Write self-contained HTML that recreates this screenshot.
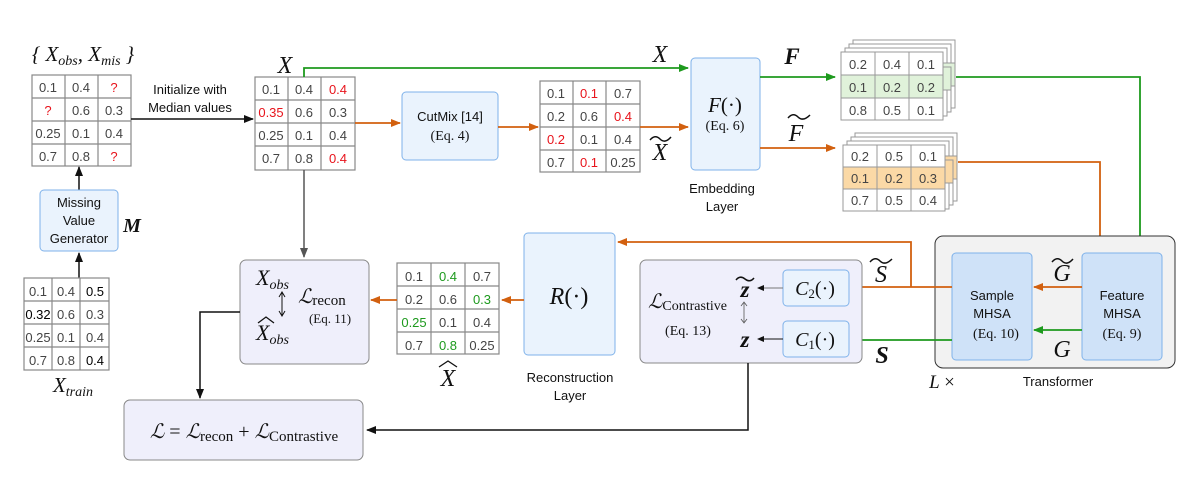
<!DOCTYPE html>
<html><head><meta charset="utf-8"><style>
html,body{margin:0;padding:0;background:#fff;}
svg{display:block;}
.c{font-family:"Liberation Sans",sans-serif;font-size:13px;fill:#444;text-anchor:middle;}
.r{fill:#e8141c;} .g{fill:#1e9a1e;} .k{fill:#000;}
.s{font-family:"Liberation Sans",sans-serif;font-size:13px;fill:#111;text-anchor:middle;}
.m{font-family:"Liberation Serif",serif;font-style:italic;fill:#111;text-anchor:middle;}
.e{font-family:"Liberation Serif",serif;fill:#111;text-anchor:middle;}
.gl{stroke:#888;fill:none;stroke-width:1.2;}
</style></head><body>
<svg width="1196" height="492" viewBox="0 0 1196 492" xmlns="http://www.w3.org/2000/svg">
<defs>
<marker id="ak" markerWidth="10" markerHeight="8" refX="9" refY="4" orient="auto" markerUnits="userSpaceOnUse"><path d="M0,0 L10,4 L0,8 z" fill="#111"/></marker>
<marker id="ag" markerWidth="10" markerHeight="8" refX="9" refY="4" orient="auto" markerUnits="userSpaceOnUse"><path d="M0,0 L10,4 L0,8 z" fill="#1e9a1e"/></marker>
<marker id="ao" markerWidth="10" markerHeight="8" refX="9" refY="4" orient="auto" markerUnits="userSpaceOnUse"><path d="M0,0 L10,4 L0,8 z" fill="#d2600f"/></marker>
<marker id="ad" markerWidth="10" markerHeight="8" refX="9" refY="4" orient="auto" markerUnits="userSpaceOnUse"><path d="M0,0 L10,4 L0,8 z" fill="#555"/></marker>
<marker id="as" markerWidth="7" markerHeight="6" refX="6" refY="3" orient="auto" markerUnits="userSpaceOnUse"><path d="M0,0 L7,3 L0,6 z" fill="#111"/></marker>
</defs>

<!-- Grid 1 -->
<text x="83" y="61" class="m" font-size="21">{ X<tspan font-size="14" dy="4">obs</tspan><tspan dy="-4">, X</tspan><tspan font-size="14" dy="4">mis</tspan><tspan dy="-4"> }</tspan></text>
<g class="gl"><rect x="32" y="75" width="99" height="91"/><path d="M65 75V166M98 75V166M32 98H131M32 121H131M32 144H131"/></g>
<g class="c"><text x="48" y="92">0.1</text><text x="81" y="92">0.4</text><text x="114" y="92" class="r">?</text>
<text x="48" y="115" class="r">?</text><text x="81" y="115">0.6</text><text x="114" y="115">0.3</text>
<text x="48" y="138">0.25</text><text x="81" y="138">0.1</text><text x="114" y="138">0.4</text>
<text x="48" y="161">0.7</text><text x="81" y="161">0.8</text><text x="114" y="161" class="r">?</text></g>
<line x1="131" y1="119" x2="253" y2="119" stroke="#111" stroke-width="1.5" marker-end="url(#ak)"/>
<text x="190" y="94" class="s">Initialize with</text><text x="190" y="112" class="s">Median values</text>
<line x1="79" y1="190" x2="79" y2="167" stroke="#111" stroke-width="1.5" marker-end="url(#ak)"/>
<rect x="40" y="190" width="78" height="61" rx="4" fill="#eaf3fd" stroke="#7fb2ea"/>
<text x="79" y="207" class="s">Missing</text><text x="79" y="225" class="s">Value</text><text x="79" y="243" class="s">Generator</text>
<text x="132" y="232" class="m" font-size="20" font-weight="bold">M</text>
<line x1="79" y1="278" x2="79" y2="253" stroke="#111" stroke-width="1.5" marker-end="url(#ak)"/>
<g class="gl"><rect x="24" y="278" width="85" height="92"/><path d="M52 278V370M80 278V370M24 301H109M24 324H109M24 347H109"/></g>
<g class="c"><text x="38" y="296">0.1</text><text x="66" y="296">0.4</text><text x="95" y="296" class="k">0.5</text>
<text x="38" y="319" class="k">0.32</text><text x="66" y="319">0.6</text><text x="95" y="319">0.3</text>
<text x="38" y="342">0.25</text><text x="66" y="342">0.1</text><text x="95" y="342">0.4</text>
<text x="38" y="365">0.7</text><text x="66" y="365">0.8</text><text x="95" y="365" class="k">0.4</text></g>
<text x="73" y="392" class="m" font-size="21">X<tspan font-size="14" dy="4">train</tspan></text>

<!-- X grid -->
<text x="285" y="73" class="m" font-size="24">X</text>
<g class="gl"><rect x="255" y="77" width="100" height="93"/><path d="M288 77V170M321 77V170M255 100H355M255 123H355M255 146H355"/></g>
<g class="c"><text x="271" y="94">0.1</text><text x="304" y="94">0.4</text><text x="338" y="94" class="r">0.4</text>
<text x="271" y="117" class="r">0.35</text><text x="304" y="117">0.6</text><text x="338" y="117">0.3</text>
<text x="271" y="140">0.25</text><text x="304" y="140">0.1</text><text x="338" y="140">0.4</text>
<text x="271" y="163">0.7</text><text x="304" y="163">0.8</text><text x="338" y="163" class="r">0.4</text></g>
<polyline points="304,77 304,68 688,68" fill="none" stroke="#1e9a1e" stroke-width="1.8" marker-end="url(#ag)"/>
<text x="660" y="62" class="m" font-size="24">X</text>
<line x1="355" y1="123" x2="400" y2="123" stroke="#d2600f" stroke-width="1.8" marker-end="url(#ao)"/>
<rect x="402" y="92" width="96" height="68" rx="4" fill="#eaf3fd" stroke="#7fb2ea"/>
<text x="450" y="121" class="s">CutMix [14]</text><text x="450" y="140" class="e" font-size="14">(Eq. 4)</text>
<line x1="498" y1="127" x2="538" y2="127" stroke="#d2600f" stroke-width="1.8" marker-end="url(#ao)"/>
<g class="gl"><rect x="540" y="81" width="100" height="91"/><path d="M573 81V172M606 81V172M540 104H640M540 127H640M540 150H640"/></g>
<g class="c"><text x="556" y="98">0.1</text><text x="589" y="98" class="r">0.1</text><text x="623" y="98">0.7</text>
<text x="556" y="121">0.2</text><text x="589" y="121">0.6</text><text x="623" y="121" class="r">0.4</text>
<text x="556" y="144" class="r">0.2</text><text x="589" y="144">0.1</text><text x="623" y="144">0.4</text>
<text x="556" y="167">0.7</text><text x="589" y="167" class="r">0.1</text><text x="623" y="167">0.25</text></g>
<line x1="640" y1="127" x2="688" y2="127" stroke="#d2600f" stroke-width="1.8" marker-end="url(#ao)"/>
<text x="660" y="160" class="m" font-size="24">X</text><path d="M650 140 Q655 134 660 139 T671 137" stroke="#111" fill="none" stroke-width="1.5"/>

<!-- Embedding -->
<rect x="691" y="58" width="69" height="112" rx="4" fill="#eaf3fd" stroke="#7fb2ea"/>
<text x="725" y="112" class="m" font-size="21">F<tspan font-style="normal">(·)</tspan></text>
<text x="725" y="130" class="e" font-size="14">(Eq. 6)</text>
<text x="722" y="193" class="s">Embedding</text><text x="722" y="211" class="s">Layer</text>
<line x1="760" y1="77" x2="835" y2="77" stroke="#1e9a1e" stroke-width="1.8" marker-end="url(#ag)"/>
<text x="792" y="64" class="m" font-size="23" font-weight="bold">F</text>
<line x1="760" y1="148" x2="835" y2="148" stroke="#d2600f" stroke-width="1.8" marker-end="url(#ao)"/>
<text x="796" y="141" class="m" font-size="24">F</text><path d="M788 118 Q793 112 798 117 T810 115" stroke="#111" fill="none" stroke-width="1.5"/>

<!-- F stack -->
<g stroke="#999" fill="#fff"><rect x="853" y="40" width="102" height="68"/><rect x="849" y="44" width="102" height="68"/><rect x="845" y="48" width="102" height="68"/></g>
<g stroke="#999" fill="#e0f2da"><rect x="853" y="63" width="102" height="23"/><rect x="849" y="67" width="102" height="23"/></g>
<rect x="841" y="52" width="102" height="68" fill="#fff" stroke="#999"/>
<rect x="841" y="75" width="102" height="23" fill="#e0f2da" stroke="#999"/>
<path d="M875 52V120M909 52V120" stroke="#999"/>
<g class="c"><text x="858" y="69">0.2</text><text x="892" y="69">0.4</text><text x="926" y="69">0.1</text>
<text x="858" y="92">0.1</text><text x="892" y="92">0.2</text><text x="926" y="92">0.2</text>
<text x="858" y="115">0.8</text><text x="892" y="115">0.5</text><text x="926" y="115">0.1</text></g>
<polyline points="956,77 1140,77 1140,250" fill="none" stroke="#1e9a1e" stroke-width="1.8" marker-end="url(#ag)"/>

<!-- F tilde stack -->
<g stroke="#999" fill="#fff"><rect x="855" y="133" width="102" height="68"/><rect x="851" y="137" width="102" height="68"/><rect x="847" y="141" width="102" height="68"/></g>
<g stroke="#999" fill="#fbd9a6"><rect x="855" y="156" width="102" height="23"/><rect x="851" y="160" width="102" height="23"/></g>
<rect x="843" y="145" width="102" height="66" fill="#fff" stroke="#999"/>
<rect x="843" y="167" width="102" height="22" fill="#fbd9a6" stroke="#999"/>
<path d="M877 145V211M911 145V211" stroke="#999"/>
<g class="c"><text x="860" y="161">0.2</text><text x="894" y="161">0.5</text><text x="928" y="161">0.1</text>
<text x="860" y="183">0.1</text><text x="894" y="183">0.2</text><text x="928" y="183">0.3</text>
<text x="860" y="205">0.7</text><text x="894" y="205">0.5</text><text x="928" y="205">0.4</text></g>
<polyline points="958,162 1100,162 1100,250" fill="none" stroke="#d2600f" stroke-width="1.8" marker-end="url(#ao)"/>

<!-- Transformer -->
<rect x="935" y="236" width="240" height="132" rx="8" fill="#f2f2f2" stroke="#333"/>
<rect x="952" y="253" width="80" height="107" rx="4" fill="#cfe2f8" stroke="#7fb2ea"/>
<text x="992" y="300" class="s">Sample</text><text x="992" y="318" class="s">MHSA</text><text x="996" y="338" class="e" font-size="14">(Eq. 10)</text>
<rect x="1082" y="253" width="80" height="107" rx="4" fill="#cfe2f8" stroke="#7fb2ea"/>
<text x="1122" y="300" class="s">Feature</text><text x="1122" y="318" class="s">MHSA</text><text x="1122" y="338" class="e" font-size="14">(Eq. 9)</text>
<line x1="1082" y1="287" x2="1034" y2="287" stroke="#d2600f" stroke-width="1.8" marker-end="url(#ao)"/>
<line x1="1082" y1="330" x2="1034" y2="330" stroke="#1e9a1e" stroke-width="1.8" marker-end="url(#ag)"/>
<text x="1062" y="281" class="m" font-size="24">G</text><path d="M1052 262 Q1057 256 1062 261 T1073 259" stroke="#111" fill="none" stroke-width="1.5"/>
<text x="1062" y="357" class="m" font-size="24">G</text>
<text x="942" y="388" class="m" font-size="19">L <tspan font-style="normal">×</tspan></text>
<text x="1058" y="386" class="s">Transformer</text>

<!-- S arrows -->
<line x1="952" y1="287" x2="852" y2="287" stroke="#d2600f" stroke-width="1.8" marker-end="url(#ao)"/>
<polyline points="911,287 911,242 618,242" fill="none" stroke="#d2600f" stroke-width="1.8" marker-end="url(#ao)"/>
<line x1="952" y1="340" x2="852" y2="340" stroke="#1e9a1e" stroke-width="1.8" marker-end="url(#ag)"/>
<text x="881" y="282" class="m" font-size="24">S</text><path d="M870 262 Q875 256 880 261 T892 259" stroke="#111" fill="none" stroke-width="1.5"/>
<text x="882" y="363" class="m" font-size="24" font-weight="bold">S</text>

<!-- Contrastive -->
<rect x="640" y="260" width="222" height="103" rx="6" fill="#efeffb" stroke="#888"/>
<rect x="783" y="270" width="66" height="36" rx="4" fill="#eaf3fd" stroke="#7fb2ea"/>
<rect x="783" y="321" width="66" height="36" rx="4" fill="#eaf3fd" stroke="#7fb2ea"/>
<text x="815" y="295" class="m" font-size="20">C<tspan font-size="13" font-style="normal" dy="3">2</tspan><tspan font-style="normal" dy="-3">(·)</tspan></text>
<text x="815" y="346" class="m" font-size="20">C<tspan font-size="13" font-style="normal" dy="3">1</tspan><tspan font-style="normal" dy="-3">(·)</tspan></text>
<line x1="783" y1="288" x2="758" y2="288" stroke="#777" stroke-width="1" marker-end="url(#as)"/>
<line x1="783" y1="339" x2="758" y2="339" stroke="#111" stroke-width="1" marker-end="url(#as)"/>
<text x="745" y="297" class="m" font-size="23" font-weight="bold">z</text><path d="M736 280 Q740 275 745 279 T754 278" stroke="#111" fill="none" stroke-width="1.5"/>
<text x="745" y="347" class="m" font-size="23" font-weight="bold">z</text>
<path d="M744 303V322" stroke="#555" stroke-width="0.8"/><path d="M741 306L744 302L747 306M741 319L744 323L747 319" stroke="#555" fill="none" stroke-width="0.8"/>
<text x="648" y="308" class="m" font-size="20" style="text-anchor:start">ℒ<tspan font-style="normal" font-size="14" dy="2">Contrastive</tspan></text>
<text x="688" y="335" class="e" font-size="14">(Eq. 13)</text>
<polyline points="748,363 748,430 367,430" fill="none" stroke="#111" stroke-width="1.5" marker-end="url(#ak)"/>

<!-- Loss -->
<rect x="124" y="400" width="239" height="60" rx="6" fill="#efeffb" stroke="#888"/>
<text x="244" y="438" class="m" font-size="20">ℒ <tspan font-style="normal">=</tspan> ℒ<tspan font-style="normal" font-size="15" dy="3">recon</tspan><tspan font-style="normal" dy="-3"> + </tspan>ℒ<tspan font-style="normal" font-size="15" dy="3">Contrastive</tspan></text>

<!-- R box -->
<rect x="524" y="233" width="91" height="122" rx="4" fill="#eaf3fd" stroke="#7fb2ea"/>
<text x="569" y="304" class="m" font-size="24">R<tspan font-style="normal">(·)</tspan></text>
<text x="570" y="382" class="s">Reconstruction</text><text x="570" y="400" class="s">Layer</text>
<line x1="524" y1="300" x2="502" y2="300" stroke="#d2600f" stroke-width="1.8" marker-end="url(#ao)"/>
<g class="gl"><rect x="397" y="263" width="102" height="91"/><path d="M431 263V354M465 263V354M397 286H499M397 309H499M397 332H499"/></g>
<g class="c"><text x="414" y="281">0.1</text><text x="448" y="281" class="g">0.4</text><text x="482" y="281">0.7</text>
<text x="414" y="304">0.2</text><text x="448" y="304">0.6</text><text x="482" y="304" class="g">0.3</text>
<text x="414" y="327" class="g">0.25</text><text x="448" y="327">0.1</text><text x="482" y="327">0.4</text>
<text x="414" y="350">0.7</text><text x="448" y="350" class="g">0.8</text><text x="482" y="350">0.25</text></g>
<text x="448" y="386" class="m" font-size="24">X</text><path d="M439 367 L448 361 L457 367" stroke="#111" fill="none" stroke-width="1.3"/>
<line x1="397" y1="300" x2="371" y2="300" stroke="#d2600f" stroke-width="1.8" marker-end="url(#ao)"/>

<!-- Lrecon -->
<line x1="304" y1="170" x2="304" y2="257" stroke="#555" stroke-width="1.5" marker-end="url(#ad)"/>
<rect x="240" y="260" width="129" height="104" rx="6" fill="#efeffb" stroke="#888"/>
<text x="256" y="285" class="m" font-size="22" style="text-anchor:start">X<tspan font-size="14" dy="4">obs</tspan></text>
<path d="M282 293V315" stroke="#111" stroke-width="1"/><path d="M279 297L282 292L285 297M279 311L282 316L285 311" stroke="#111" fill="none"/>
<text x="298" y="303" class="m" font-size="20" style="text-anchor:start">ℒ<tspan font-style="normal" font-size="15" dy="2">recon</tspan></text>
<text x="330" y="323" class="e" font-size="13">(Eq. 11)</text>
<text x="256" y="340" class="m" font-size="22" style="text-anchor:start">X<tspan font-size="14" dy="4">obs</tspan></text><path d="M258 323 L266 317 L274 323" stroke="#111" fill="none" stroke-width="1.3"/>
<polyline points="240,312 200,312 200,398" fill="none" stroke="#111" stroke-width="1.5" marker-end="url(#ak)"/>
</svg>
</body></html>
